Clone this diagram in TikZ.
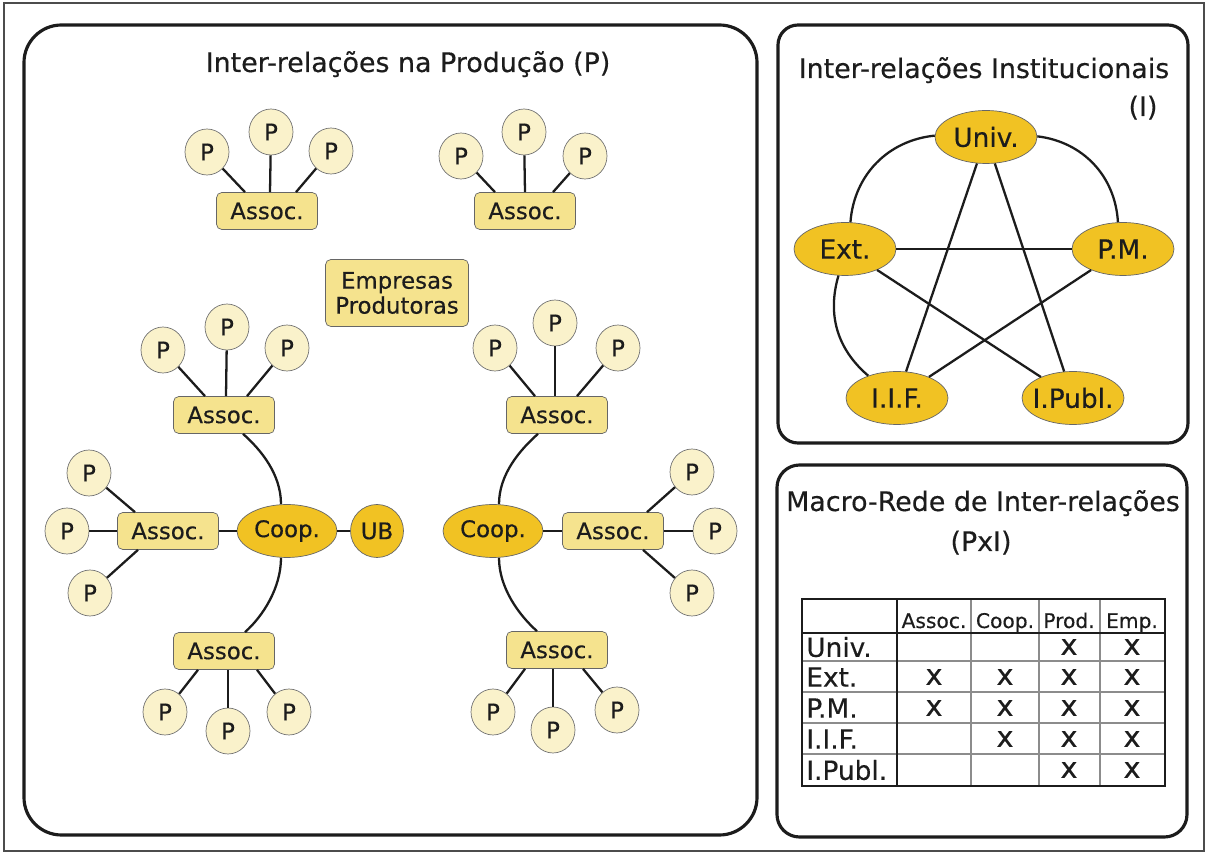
\documentclass[tikz,border=0pt]{standalone}
\usepackage{fontspec}
\setmainfont{DejaVu Sans}[FakeBold=0.4]
\usetikzlibrary{shapes.geometric, calc}

\definecolor{prodfill}{RGB}{250,242,203}
\definecolor{assocfill}{RGB}{245,227,142}
\definecolor{coopfill}{RGB}{241,194,35}
\definecolor{inkgray}{RGB}{28,28,28}

\begin{document}
\begin{tikzpicture}[
        x=0.02cm, y=-0.02cm,
        every node/.style = {text=inkgray},
        prod/.style = {ellipse, draw=black!55, fill=prodfill, inner sep=0pt,
            minimum width=0.88cm, minimum height=0.92cm, font=\fontsize{13}{15}\selectfont},
        assoc/.style = {rectangle, rounded corners=3pt, draw=black!60, fill=assocfill,
            minimum width=2.02cm, minimum height=0.74cm, inner sep=1pt, font=\fontsize{13}{15}\selectfont},
        coop/.style = {ellipse, draw=black!60, fill=coopfill, inner sep=0pt,
            minimum width=2cm, minimum height=1.06cm, font=\fontsize{13}{15}\selectfont},
        inst/.style = {ellipse, draw=black!60, fill=coopfill, inner xsep=-4pt, inner ysep=0pt,
            minimum width=2.04cm, minimum height=1.06cm, font=\fontsize{15}{17}\selectfont},
        link/.style = {draw=inkgray, line width=1.3pt},
        panel/.style = {draw=inkgray, line width=1.8pt},
        heading/.style = {anchor=base, font=\fontsize{15.3}{18}\selectfont},
        colhead/.style = {anchor=base, inner sep=0pt, font=\fontsize{11.5}{13}\selectfont},
        rowhead/.style = {anchor=west, inner sep=0pt, font=\fontsize{15}{17}\selectfont},
        xmark/.style = {font=\fontsize{16.5}{18}\selectfont},
    ]
    \useasboundingbox (0,0) rectangle (1208,854);
    \draw[black!70, line width=1pt] (4,3) rectangle (1204,851);

    % producao
    \draw[panel, rounded corners=0.75cm] (24,25) rectangle (757,835);
    \node[heading] (ptitle) at (408,72) {Inter-relações na Produção (P)};
    \node[assoc, align=center, minimum width=2.86cm, minimum height=1.34cm,
        font=\fontsize{13}{14.2}\selectfont] (emp) at (397,293) {Empresas\\Produtoras};

    \node[assoc] (aTL) at (267,211) {Assoc.};
    \node[assoc] (aTR) at (525,211) {Assoc.};
    \node[assoc] (aLU) at (224,415) {Assoc.};
    \node[assoc] (aLL) at (168,531) {Assoc.};
    \node[assoc] (aLD) at (224,651) {Assoc.};
    \node[assoc] (aRU) at (557,415) {Assoc.};
    \node[assoc] (aRR) at (613,531) {Assoc.};
    \node[assoc] (aRD) at (557,650) {Assoc.};
    \node[coop] (coopL) at (287,531) {Coop.};
    \node[coop] (coopR) at (493,531) {Coop.};
    \node[coop, minimum width=1.06cm] (ub) at (377,531) {UB};

    \foreach \n/\x/\y in {TL1/207/152, TL2/271/132, TL3/331/151,
            TR1/461/156, TR2/524/132, TR3/585/156,
            LU1/163/350, LU2/227/327, LU3/287/348,
            LL1/89/473, LL2/67/531, LL3/90/593,
            LD1/165/712, LD2/228/731, LD3/289/712,
            RU1/495/348, RU2/555/323, RU3/618/348,
            RR1/692/472, RR2/715/531, RR3/692/593,
            RD1/493/712, RD2/553/730, RD3/617/710}
        \node[prod] (p\n) at (\x,\y) {P};

    \foreach \n/\a/\dx in {TL1/aTL.north/-22, TL2/aTL.north/3, TL3/aTL.north/29,
            TR1/aTR.north/-30, TR2/aTR.north/0, TR3/aTR.north/28,
            LU1/aLU.north/-19, LU2/aLU.north/2, LU3/aLU.north/23,
            LL1/aLL.north/-33, LL2/aLL.west/0, LL3/aLL.south/-30,
            LD1/aLD.south/-26, LD2/aLD.south/4, LD3/aLD.south/33,
            RU1/aRU.north/-22, RU2/aRU.north/-2, RU3/aRU.north/20,
            RR1/aRR.north/34, RR2/aRR.east/0, RR3/aRR.south/30,
            RD1/aRD.south/-32, RD2/aRD.south/-4, RD3/aRD.south/26}
        \draw[link] (p\n) -- ($(\a)+(\dx,0)$);

    \draw[link] (coopL) -- (aLL);
    \draw[link] (coopL) -- (ub);
    \draw[link] (coopR) -- (aRR);
    % y axis points down here
    \draw[link] ($(aLU.south)+(19,0)$) .. controls +(18,16) and +(0,-30) .. ($(coopL.north)+(-6,0)$);
    \draw[link] ($(coopL.south)+(-6,0)$) .. controls +(0,30) and +(18,-16) .. ($(aLD.north)+(21,0)$);
    \draw[link] ($(aRU.south)+(-19,0)$) .. controls +(-18,16) and +(0,-30) .. ($(coopR.north)+(6,0)$);
    \draw[link] ($(coopR.south)+(6,0)$) .. controls +(0,30) and +(-18,-16) .. ($(aRD.north)+(-20,0)$);

    % institucionais
    \draw[panel, rounded corners=0.4cm] (778,25) rectangle (1188,443);
    \node[heading] (ititle) at (984,78) {Inter-relações Institucionais};
    \node[heading] (ilabel) at (1143,116) {(I)};
    \node[inst] (univ) at (986,137) {Univ.};
    \node[inst] (ext) at (845,249) {Ext.};
    \node[inst] (pm) at (1123,249) {P.M.};
    \node[inst] (iif) at (897,398) {I.I.F.};
    \node[inst] (ipubl) at (1073,398) {I.Publ.};
    \draw[link] (univ) to[bend right=40] (ext);
    \draw[link] (univ) to[bend left=40] (pm);
    \draw[link] (ext) to[bend right=33] (iif);
    \draw[link] (univ) -- (iif);
    \draw[link] (univ) -- (ipubl);
    \draw[link] (ext) -- (pm);
    \draw[link] (ext) -- (ipubl);
    \draw[link] (pm) -- (iif);

    % macro-rede
    \draw[panel, rounded corners=0.45cm] (777,465) rectangle (1187,837);
    \node[heading] (mtitle) at (983,511) {Macro-Rede de Inter-relações};
    \node[heading] (mlabel) at (981,551) {(PxI)};
    \foreach \xx in {971,1039,1100}
        \draw[black!45, line width=0.6pt] (\xx,599) -- (\xx,786);
    \foreach \yy in {661,692,723,754}
        \draw[black!45, line width=0.6pt] (802,\yy) -- (1165,\yy);
    \draw[inkgray, line width=1.6pt] (802,599) rectangle (1165,786)
        (802,633) -- (1165,633) (897,599) -- (897,786);
    \foreach \txt/\xx [count=\i] in {Assoc./934, Coop./1005, Prod./1069, Emp./1132}
        \node[colhead] (col\i) at (\xx,628) {\txt};
    \foreach \txt/\yy [count=\i] in {Univ./647, Ext./677, P.M./708, I.I.F./739, I.Publ./770}
        \node[rowhead] (row\i) at (806,\yy) {\txt};
    \foreach \xx/\yy [count=\i] in {1069/647, 1132/647,
            934/677, 1005/677, 1069/677, 1132/677,
            934/708, 1005/708, 1069/708, 1132/708,
            1005/739, 1069/739, 1132/739,
            1069/770, 1132/770}
        \node[xmark] (x\i) at (\xx,\yy) {x};
\end{tikzpicture}
\end{document}
